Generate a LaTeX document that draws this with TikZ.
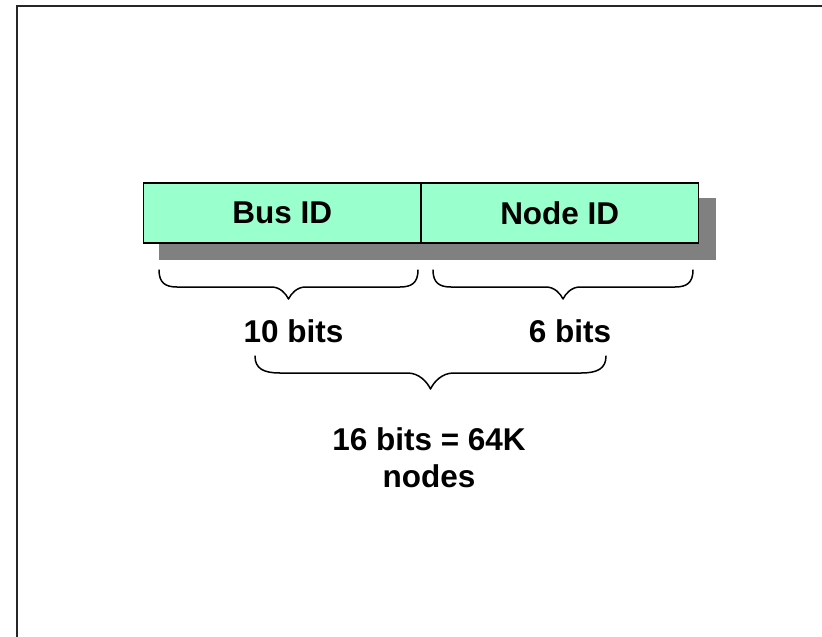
\documentclass[tikz,border=0pt]{standalone}
\usepackage{fontspec}
\setmainfont{Liberation Sans}
\usetikzlibrary{calc,backgrounds}

\definecolor{fieldfill}{RGB}{153,255,204}
\definecolor{shadowgray}{RGB}{128,128,128}

% Curly brace: #1 left x, #2 right x, #3 end top y, #4 bar y, #5 tip y,
% #6 width of the end curves, #7 width of the tip curves
\newcommand\bitbrace[7]{%
  \draw[bracestroke]
    (#1,#3) .. controls (#1,{#3+0.75*(#4-#3)}) and ({#1+0.35*#6},#4) .. ({#1+#6},#4)
    -- ({(#1+#2)/2-#7},#4)
    .. controls ({(#1+#2)/2-0.5*#7},#4) and ({(#1+#2)/2-0.15*#7},{#5-0.45*(#5-#4)}) .. ({(#1+#2)/2},#5)
    .. controls ({(#1+#2)/2+0.15*#7},{#5-0.45*(#5-#4)}) and ({(#1+#2)/2+0.5*#7},#4) .. ({(#1+#2)/2+#7},#4)
    -- ({#2-#6},#4)
    .. controls ({#2-0.35*#6},#4) and (#2,{#3+0.75*(#4-#3)}) .. (#2,#3);
}

\tikzset{
  field/.style={draw=black, line width=1.4pt, fill=fieldfill, rectangle,
    inner sep=0pt, minimum height=60pt, minimum width=277.5pt,
    font=\bfseries\fontsize{31.5}{37}\selectfont},
  caption/.style={anchor=base, inner sep=0pt,
    font=\bfseries\fontsize{31.5}{37}\selectfont},
  bracestroke/.style={draw=black, line width=1.5pt, line cap=round, line join=round},
}

\begin{document}
\begin{tikzpicture}[x=1pt, y=-1pt]
  \useasboundingbox (0,0) rectangle (822,637);

  % address fields
  \node[field] (bus) at (282.25,213) {Bus ID};
  \node[field] (nid) at (559.75,213) {Node ID};

  \begin{scope}[on background layer]
    % white page, a little larger than the visible area
    \fill[white] (-10,-10) rectangle (840,650);
    % drop shadow behind both fields
    \fill[shadowgray] ($(bus.north west)+(16,16)$) rectangle ($(nid.south east)+(17,16)$);
    % slide frame: left and top edges, running off the page
    \coordinate (frameBL) at (17,650);
    \coordinate (frameTL) at (17,6);
    \coordinate (frameTR) at (840,6);
    \draw[line width=2.2pt, black!85] (frameBL) -- (frameTL) -- (frameTR);
  \end{scope}

  % field widths
  \bitbrace{159}{418}{270}{287}{299}{18}{17}
  \bitbrace{433}{693}{270}{287}{299}{18}{17}
  \node[caption] (busbits) at (293.5,342) {10 bits};
  \node[caption] (nidbits) at (570,342) {6 bits};

  % total address width
  \bitbrace{255}{606}{356}{373}{389}{25}{23}
  \node[caption] (total1) at (429,450) {16 bits = 64K};
  \node[caption] (total2) at (429,487) {nodes};
\end{tikzpicture}
\end{document}
